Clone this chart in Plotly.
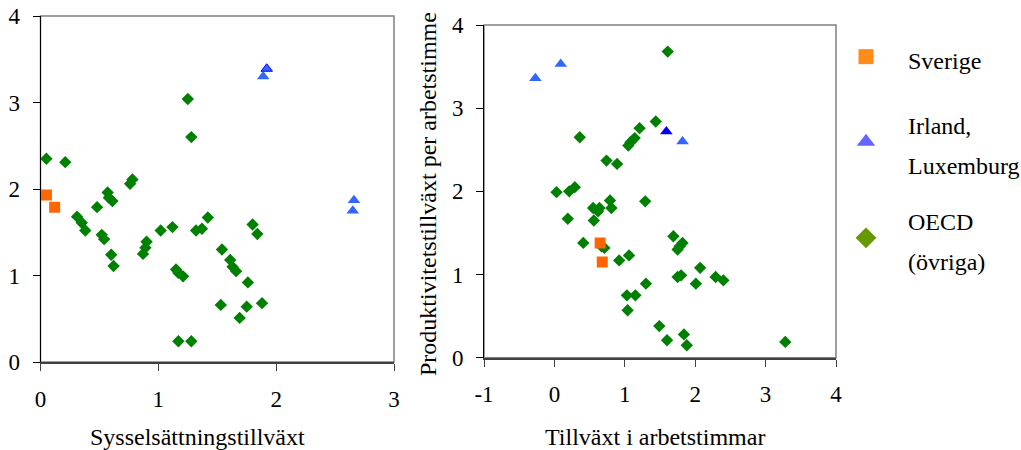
import plotly.graph_objects as go

# ---------------- data ----------------
# Left panel: x = Sysselsättningstillväxt, y = productivity growth
sverige_left_x = [0.05, 0.12]
sverige_left_y = [1.93, 1.79]
irllux_left_x = [1.89, 2.66, 2.65]
irllux_left_y = [3.30, 1.87, 1.75]
irllux_dark_left_x = [1.92]
irllux_dark_left_y = [3.39]
oecd_left_x = [0.05, 0.21, 1.25, 1.28, 0.78, 0.76, 0.57, 0.58, 0.61, 0.48,
               0.31, 0.35, 0.38, 0.52, 0.54, 0.60, 0.62, 0.90, 0.89, 0.87,
               1.02, 1.12, 1.32, 1.37, 1.42, 1.15, 1.17, 1.21, 1.54, 1.61,
               1.63, 1.66, 1.80, 1.84, 1.76, 1.53, 1.75, 1.88, 1.69, 1.17, 1.28]
oecd_left_y = [2.35, 2.31, 3.04, 2.60, 2.11, 2.06, 1.96, 1.90, 1.86, 1.79,
               1.68, 1.61, 1.52, 1.47, 1.42, 1.24, 1.11, 1.39, 1.32, 1.25,
               1.52, 1.56, 1.52, 1.54, 1.67, 1.07, 1.03, 0.99, 1.30, 1.18,
               1.10, 1.05, 1.59, 1.48, 0.92, 0.66, 0.64, 0.68, 0.51, 0.24, 0.24]

# Right panel: x = Tillväxt i arbetstimmar, y = Produktivitetstillväxt per arbetstimme
sverige_right_x = [0.65, 0.68]
sverige_right_y = [1.38, 1.15]
irllux_right_x = [-0.27, 0.09, 1.82]
irllux_right_y = [3.36, 3.53, 2.60]
irllux_dark_right_x = [1.59]
irllux_dark_right_y = [2.72]
oecd_right_x = [1.61, 1.44, 1.21, 1.14, 1.08, 1.05, 0.36, 0.74, 0.89, 0.03,
                0.21, 0.29, 0.19, 0.55, 0.64, 0.62, 0.79, 0.81, 0.56, 1.29,
                0.41, 0.71, 0.67, 0.92, 1.06, 1.30, 1.03, 1.15, 1.04, 1.69,
                1.82, 1.78, 1.75, 1.80, 1.75, 2.07, 2.01, 2.29, 2.40, 1.49,
                1.60, 1.84, 1.88, 3.28]
oecd_right_y = [3.68, 2.84, 2.76, 2.64, 2.59, 2.55, 2.65, 2.37, 2.33, 1.99,
                2.00, 2.05, 1.67, 1.80, 1.80, 1.76, 1.89, 1.80, 1.65, 1.88,
                1.38, 1.32, 1.34, 1.17, 1.23, 0.89, 0.75, 0.75, 0.57, 1.46,
                1.38, 1.34, 1.30, 0.99, 0.97, 1.08, 0.89, 0.97, 0.93, 0.38,
                0.21, 0.28, 0.15, 0.19]

left_xticks = [0, 1, 2, 3]
left_xticktext = ["0", "1", "2", "3"]
right_xticks = [-1, 0, 1, 2, 3, 4]
right_xticktext = ["-1", "0", "1", "2", "3", "4"]
yticks = [0, 1, 2, 3, 4]
yticktext = ["0", "1", "2", "3", "4"]

legend_names = ["Sverige", "Irland,|Luxemburg", "OECD|(övriga)"]
title_left_x = "Sysselsättningstillväxt"
title_right_x = "Tillväxt i arbetstimmar"
title_right_y = "Produktivitetstillväxt per arbetstimme"

# ---------------- styles ----------------
FONT = "Liberation Serif"
TXT = 24
TICK = 23
C_SWE = "#FF6600"
C_IRL = "#3366FF"
C_IRL_DARK = "#0000FF"
C_OECD = "#008000"
L_SWE = "#FF8C1A"
L_IRL = "#6666FF"
L_OECD = "#669900"

fig = go.Figure()

def pts(x, y, xa, ya, symbol, color, size, line_color=None):
    fig.add_trace(go.Scatter(
        x=x, y=y, xaxis=xa, yaxis=ya, mode="markers", showlegend=False,
        marker=dict(symbol=symbol, color=color, size=size,
                    line=dict(width=1 if line_color else 0, color=line_color or color)),
        hoverinfo="x+y"))

# left panel
pts(oecd_left_x, oecd_left_y, "x", "y", "diamond", C_OECD, 9.5)
pts(sverige_left_x, sverige_left_y, "x", "y", "square", C_SWE, 11)
pts(irllux_left_x, irllux_left_y, "x", "y", "triangle-up", C_IRL, 11)
pts(irllux_dark_left_x, irllux_dark_left_y, "x", "y", "triangle-up", C_IRL, 10, C_IRL_DARK)
# right panel
pts(oecd_right_x, oecd_right_y, "x2", "y2", "diamond", C_OECD, 9.5)
pts(sverige_right_x, sverige_right_y, "x2", "y2", "square", C_SWE, 11)
pts(irllux_right_x, irllux_right_y, "x2", "y2", "triangle-up", C_IRL, 11)
pts(irllux_dark_right_x, irllux_dark_right_y, "x2", "y2", "triangle-up", C_IRL_DARK, 11)

# legend-only entries (each in its own legend for exact placement)
def fmt(name):
    parts = name.split("|")
    return "<br>".join(f"<span style='font-size:{TXT}px'>{p}</span>" for p in parts)

for name, sym, col, size, lg in [
        (legend_names[0], "square", L_SWE, 15, "legend"),
        (legend_names[1], "triangle-up", L_IRL, 16, "legend2"),
        (legend_names[2], "diamond", L_OECD, 16, "legend3")]:
    fig.add_trace(go.Scatter(x=[None], y=[None], xaxis="x2", yaxis="y2",
                             mode="markers", name=fmt(name), legend=lg,
                             marker=dict(symbol=sym, color=col, size=size)))

W, H = 1021, 450
def px_x(p): return p / W
def px_y(p): return 1 - p / H

axis_common = dict(showgrid=False, zeroline=False, showline=True,
                   ticks="outside", ticklen=7, tickwidth=1, automargin=False,
                   tickfont=dict(family=FONT, size=TICK, color="black"),
                   fixedrange=True)

fig.update_layout(
    width=W, height=H,
    margin=dict(l=0, r=0, t=0, b=0, autoexpand=False),
    paper_bgcolor="white", plot_bgcolor="white",
    font=dict(family=FONT, size=TXT, color="black"),
    xaxis=dict(domain=[px_x(40.5), px_x(394)], range=[0, 3],
               tickvals=left_xticks, ticktext=left_xticktext,
               linecolor="#404040", linewidth=2, tickcolor="#404040",
               ticklabelstandoff=8, anchor="y", **axis_common),
    yaxis=dict(domain=[px_y(362), px_y(16)], range=[0, 4],
               tickvals=yticks, ticktext=yticktext,
               linecolor="black", linewidth=1, tickcolor="black",
               ticklabelstandoff=8, anchor="x", **axis_common),
    xaxis2=dict(domain=[px_x(484), px_x(836)], range=[-1, 4],
                tickvals=right_xticks, ticktext=right_xticktext,
                linecolor="#404040", linewidth=2, tickcolor="#404040",
                ticklabelstandoff=8, anchor="y2", **axis_common),
    yaxis2=dict(domain=[px_y(357.7), px_y(25)], range=[0, 4],
                tickvals=yticks, ticktext=yticktext,
                linecolor="black", linewidth=1, tickcolor="black",
                ticklabelstandoff=8, anchor="x2", **axis_common),
)

# gray frame around each plot area
for xr, yr in [("x", "y"), ("x2", "y2")]:
    fig.add_shape(type="rect", xref=f"{xr} domain", yref=f"{yr} domain",
                  x0=0, x1=1, y0=0, y1=1, layer="below",
                  line=dict(color="#808080", width=1.5))

# axis titles
fig.add_annotation(text=title_left_x, xref="paper", yref="paper",
                   x=px_x(197), y=px_y(437), showarrow=False,
                   xanchor="center", yanchor="middle",
                   font=dict(family=FONT, size=TXT, color="black"))
fig.add_annotation(text=title_right_x, xref="paper", yref="paper",
                   x=px_x(655), y=px_y(437), showarrow=False,
                   xanchor="center", yanchor="middle",
                   font=dict(family=FONT, size=TXT, color="black"))
fig.add_annotation(text=title_right_y, xref="paper", yref="paper",
                   x=px_x(428), y=px_y(194), showarrow=False, textangle=-90,
                   xanchor="center", yanchor="middle",
                   font=dict(family=FONT, size=TXT, color="black"))

leg_common = dict(bgcolor="rgba(0,0,0,0)", borderwidth=0, xanchor="left",
                  yanchor="middle", itemwidth=74,
                  font=dict(family=FONT, size=31, color="black"),
                  itemclick=False, itemdoubleclick=False)
fig.update_layout(
    legend=dict(x=px_x(824), y=px_y(57), **leg_common),
    legend2=dict(x=px_x(824), y=px_y(142), **leg_common),
    legend3=dict(x=px_x(824), y=px_y(238), **leg_common),
)

fig.write_html("out.html")
